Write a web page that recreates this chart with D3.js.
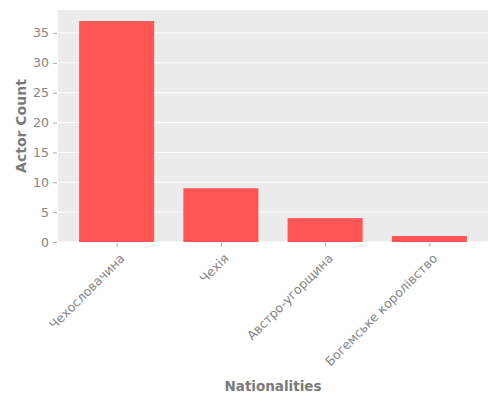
<!doctype html>
<html lang="uk">
<head>
  <meta charset="utf-8">
  <title>Actor Count by Nationality</title>
  <script src="https://cdnjs.cloudflare.com/ajax/libs/d3/7.8.5/d3.min.js"></script>
  <style>
    body { margin: 0; background: #fff; }
    text { font-family: "DejaVu Sans", sans-serif; }
  </style>
</head>
<body>
<svg width="500" height="400" id="svg"></svg>
<script>
  var nationalities = ['Чехословачина', 'Чехія', 'Австро-угорщина', 'Богемське королівство'];
  var actorCounts = [37, 9, 4, 1];
  var yTicks = [0, 5, 10, 15, 20, 25, 30, 35];

  var plotLeft = 58, plotRight = 488, plotTop = 10, plotBottom = 242;
  var barWidth = 0.72;

  var svg = d3.select('#svg');

  var x = d3.scaleLinear()
    .domain([-0.5625, nationalities.length - 1 + 0.5625])
    .range([plotLeft, plotRight]);

  var y = d3.scaleLinear()
    .domain([0, d3.max(actorCounts) * 1.05])
    .range([plotBottom, plotTop]);

  // panel background
  svg.append('rect')
    .attr('x', plotLeft).attr('y', plotTop)
    .attr('width', plotRight - plotLeft).attr('height', plotBottom - plotTop)
    .attr('fill', '#ebebeb');

  // grid
  svg.selectAll('.grid')
    .data(yTicks)
    .enter()
    .append('line')
    .attr('class', 'grid')
    .attr('x1', plotLeft).attr('x2', plotRight)
    .attr('y1', function(d) { return y(d); })
    .attr('y2', function(d) { return y(d); })
    .attr('stroke', '#fff')
    .attr('stroke-width', 1);

  // bars
  svg.selectAll('.bar')
    .data(actorCounts)
    .enter()
    .append('rect')
    .attr('class', 'bar')
    .attr('x', function(d, i) { return x(i - barWidth / 2); })
    .attr('width', function() { return x(barWidth) - x(0); })
    .attr('y', function(d) { return y(d); })
    .attr('height', function(d) { return y(0) - y(d); })
    .attr('fill', '#ff5555');

  // y axis
  var yAxis = svg.append('g')
    .attr('transform', 'translate(' + (plotLeft - 1) + ',0)')
    .call(d3.axisLeft(y).tickValues(yTicks).tickSize(4).tickPadding(4));
  yAxis.select('.domain').remove();
  yAxis.selectAll('line').attr('stroke', '#aaa');
  yAxis.selectAll('text')
    .attr('fill', '#858585')
    .style('font-size', '12.5px');

  // x axis
  var xAxis = svg.append('g')
    .attr('transform', 'translate(0,' + (plotBottom + 1) + ')')
    .call(d3.axisBottom(x)
      .tickValues(d3.range(nationalities.length))
      .tickFormat(function(d) { return nationalities[d]; })
      .tickSize(4));
  xAxis.select('.domain').remove();
  xAxis.selectAll('line').attr('stroke', '#aaa');
  xAxis.selectAll('text')
    .attr('fill', '#858585')
    .style('font-size', '12.5px')
    .attr('text-anchor', 'end')
    .attr('x', 0).attr('y', 0).attr('dy', '0.7em')
    .attr('transform', 'translate(2,10) rotate(-45)');

  // labels
  svg.append('text')
    .attr('transform', 'translate(26,' + ((plotTop + plotBottom) / 2) + ') rotate(-90)')
    .attr('text-anchor', 'middle')
    .attr('fill', '#7a7a7a')
    .style('font-size', '14px')
    .style('font-weight', 'bold')
    .text('Actor Count');

  svg.append('text')
    .attr('x', (plotLeft + plotRight) / 2)
    .attr('y', 391)
    .attr('text-anchor', 'middle')
    .attr('fill', '#7a7a7a')
    .style('font-size', '13.5px')
    .style('font-weight', 'bold')
    .text('Nationalities');
</script>
</body>
</html>
